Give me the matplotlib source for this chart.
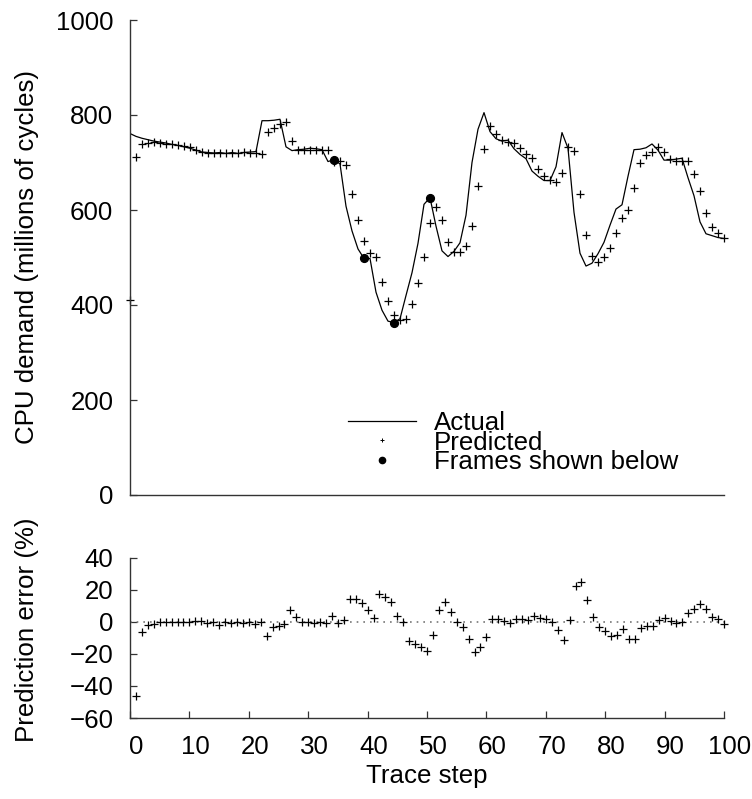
import numpy as np
import matplotlib.pyplot as plt
from matplotlib.lines import Line2D
from matplotlib.transforms import ScaledTranslation

plt.rcParams['font.family'] = ['Liberation Sans', 'DejaVu Sans']
plt.rcParams['font.size'] = 18.6

# CPU demand per trace step (millions of cycles)
actual = [761, 755, 751, 748, 745, 743, 741, 738, 736, 733,
          730, 726, 722, 721, 720, 721, 719, 721, 719, 721,
          722, 723, 788, 788, 789, 791, 733, 725, 727, 728,
          730, 729, 727, 702, 706, 697, 608, 556, 518, 498,
          498, 427, 389, 366, 363, 371, 420, 468, 530, 612,
          626, 566, 514, 502, 513, 531, 589, 700, 770, 805,
          765, 750, 745, 747, 729, 717, 708, 682, 671, 662,
          662, 691, 763, 730, 595, 509, 482, 488, 508, 532,
          568, 602, 611, 671, 727, 728, 731, 739, 726, 705,
          705, 707, 709, 668, 630, 575, 550, 546, 542, 540]
predicted = [410, 711, 739, 742, 744, 742, 740, 738, 736, 734,
             733, 727, 723, 721, 720, 720, 721, 720, 720, 722,
             720, 721, 718, 764, 772, 782, 785, 745, 726, 726,
             727, 727, 726, 726, 702, 703, 695, 633, 579, 535,
             509, 502, 449, 408, 379, 368, 370, 403, 446, 502,
             573, 607, 578, 533, 511, 512, 524, 566, 651, 728,
             777, 761, 747, 744, 742, 730, 718, 709, 686, 672,
             663, 658, 677, 732, 724, 633, 547, 503, 491, 502,
             519, 552, 584, 601, 646, 698, 715, 723, 732, 723,
             707, 704, 704, 703, 675, 640, 594, 564, 551, 542]
# prediction error (%), plotted at steps 1..100
pred_error = [-46, -6.2, -1.7, -1.2, 0, -0.4, -0.4, -0.4, -0.4, 0,
              0.6, 0.6, -1, -0.2, -1.7, -0.4, -1, -0.4, -1, -0.4,
              -1.2, -0.4, -8.9, -3.1, -2.3, -1.4, 7.2, 2.7, -0.4, -0.4,
              -1, -0.4, -1, 3.7, -0.8, 1, 14.3, 14.3, 11.8, 7.2,
              2.1, 17.6, 15.5, 12.4, 3.7, -0.4, -11.8, -13.9, -15.9, -18.2,
              -8.3, 7.2, 12.4, 6.2, -0.4, -3.5, -11, -19.1, -15.5, -9.7,
              1.7, 1.7, 0.6, -1, 1.9, 1.9, 1.4, 3.9, 2.1, 1.7,
              0, -4.8, -11.4, 1, 22.1, 24.8, 13.5, 3.1, -3.5, -5.8,
              -8.9, -8.5, -4.6, -10.6, -11, -4.1, -2.3, -2.3, 1, 2.5,
              0.4, -1, -0.4, 5.6, 7.7, 11.4, 7.9, 3.1, 1.7, -1.4]
frames = [34, 39, 44, 50]

steps = np.arange(len(actual))
err_steps = np.arange(1, len(pred_error) + 1)
frame_vals = [actual[i] for i in frames]

spine_col = '#333333'

fig = plt.figure(figsize=(7.52, 7.99), dpi=100)
ax1 = fig.add_axes([130 / 752, 1 - 495 / 799, 594 / 752, 475 / 799])
ax2 = fig.add_axes([130 / 752, 1 - 718 / 799, 594 / 752, 160.3 / 799])

# top panel
ax1.plot(steps, actual, color='k', lw=0.9)
ax1.plot(steps, predicted, ls='none', marker='+', ms=6, mew=0.9, color='k',
         clip_on=False)
ax1.plot(frames, frame_vals, ls='none', marker='o', ms=5.6, color='k')
ax1.set_xlim(0, 99)
ax1.set_ylim(0, 1000)
ax1.set_yticks(np.arange(0, 1001, 200))
ax1.tick_params(axis='x', bottom=False, labelbottom=False)
ax1.set_ylabel('CPU demand (millions of cycles)', va='center')
ax1.yaxis.set_label_coords(-0.173, 0.5)

handles = [Line2D([], [], color='k', lw=0.9),
           Line2D([], [], ls='none', marker='+', ms=3.5, mew=0.7, color='k'),
           Line2D([], [], ls='none', marker='o', ms=4.5, color='k')]
ax1.legend(handles, ['Actual', 'Predicted', 'Frames shown below'],
           loc='center left', bbox_to_anchor=(348 / 752, 1 - 442.5 / 799),
           bbox_transform=fig.transFigure, frameon=False, borderpad=0,
           borderaxespad=0, handlelength=2.63, handletextpad=0.7,
           labelspacing=-0.18)

# bottom panel
ax2.axhline(0, color='#777777', lw=1.2, ls=(0, (1, 3)))
ax2.plot(err_steps, pred_error, ls='none', marker='+', ms=6, mew=0.9,
         color='k', clip_on=False)
ax2.set_xlim(0, 100)
ax2.set_ylim(-60, 40)
ax2.set_xticks(np.arange(0, 101, 10))
ax2.set_yticks(np.arange(-60, 41, 20))
ax2.set_xlabel('Trace step', va='center')
ax2.xaxis.set_label_coords(0.5, -0.362)
ax2.set_ylabel('Prediction error (%)', va='center')
ax2.yaxis.set_label_coords(-0.173, 0.549)

for ax in (ax1, ax2):
    for side in ('top', 'right'):
        ax.spines[side].set_visible(False)
    for side in ('left', 'bottom'):
        ax.spines[side].set_color(spine_col)
        ax.spines[side].set_linewidth(1.0)
    ax.tick_params(direction='in', length=4.7, width=0.9, color=spine_col,
                   pad=12)

fig.canvas.draw()
shift = ScaledTranslation(6 / 100, 0, fig.dpi_scale_trans)
for lab in ax2.get_xticklabels():
    lab.set_transform(lab.get_transform() + shift)

fig.savefig('out.png', dpi=100)
